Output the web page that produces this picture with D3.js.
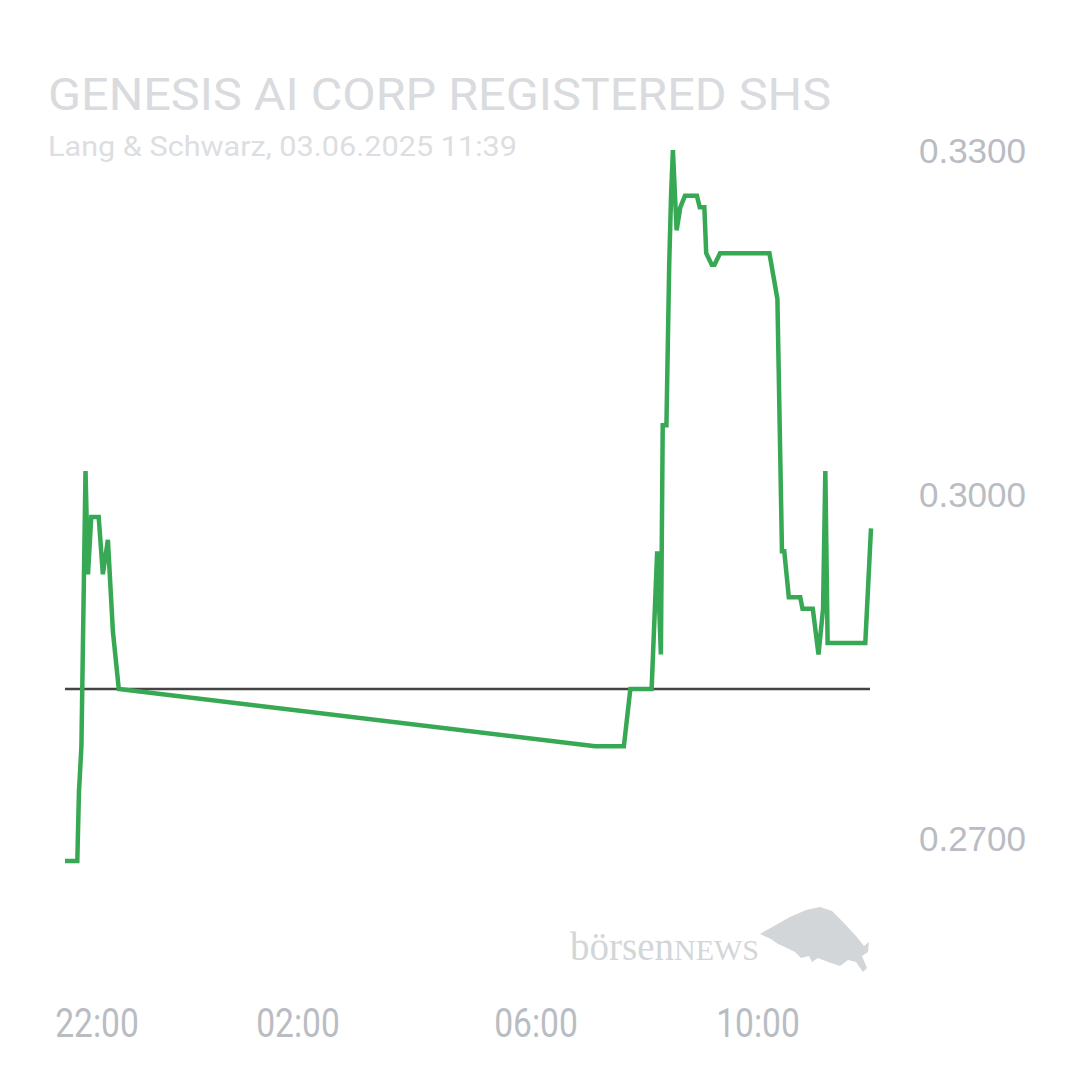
<!DOCTYPE html>
<html>
<head>
<meta charset="utf-8">
<script src="https://cdn.jsdelivr.net/npm/d3@7"></script>
<style>
    body { margin: 0; background: #fff; }
    #chart { width: 1080px; height: 1080px; }
</style>
</head>
<body>
<div id="chart"></div>
<script>

// Title texts
const chartTitle = "GENESIS AI CORP REGISTERED SHS";
const chartSubtitle = "Lang & Schwarz, 03.06.2025 11:39";

// Quote times and prices
const quoteTimes = [
    "2025-06-02 21:21", "2025-06-02 21:36", "2025-06-02 21:38", "2025-06-02 21:41",
    "2025-06-02 21:46", "2025-06-02 21:49", "2025-06-02 21:53", "2025-06-02 22:02",
    "2025-06-02 22:07", "2025-06-02 22:13", "2025-06-02 22:19", "2025-06-02 22:26",
    "2025-06-03 07:04", "2025-06-03 07:35", "2025-06-03 07:42", "2025-06-03 08:05",
    "2025-06-03 08:11", "2025-06-03 08:15", "2025-06-03 08:17", "2025-06-03 08:21",
    "2025-06-03 08:24", "2025-06-03 08:26", "2025-06-03 08:28", "2025-06-03 08:32",
    "2025-06-03 08:36", "2025-06-03 08:41", "2025-06-03 08:54", "2025-06-03 08:57",
    "2025-06-03 09:02", "2025-06-03 09:04", "2025-06-03 09:10", "2025-06-03 09:13",
    "2025-06-03 09:19", "2025-06-03 10:10", "2025-06-03 10:17", "2025-06-03 10:21",
    "2025-06-03 10:23", "2025-06-03 10:27", "2025-06-03 10:37", "2025-06-03 10:39",
    "2025-06-03 10:48", "2025-06-03 10:53", "2025-06-03 10:57", "2025-06-03 10:59",
    "2025-06-03 11:01", "2025-06-03 11:34", "2025-06-03 11:39"
];
const quotePrices = [
    0.2680, 0.2680, 0.2740, 0.2780,
    0.3020, 0.2930, 0.2980, 0.2980,
    0.2930, 0.2960, 0.2880, 0.2830,
    0.2780, 0.2780, 0.2830, 0.2830,
    0.2950, 0.2860, 0.3060, 0.3060,
    0.3200, 0.3260, 0.3300, 0.3230,
    0.3250, 0.3260, 0.3260, 0.3250,
    0.3250, 0.3210, 0.3200, 0.3200,
    0.3210, 0.3210, 0.3170, 0.2950,
    0.2950, 0.2910, 0.2910, 0.2900,
    0.2900, 0.2860, 0.2900, 0.3020,
    0.2870, 0.2870, 0.2970
];

// Previous close (reference line)
const previousClose = 0.2830;

// Axis ticks
const xTickTimes = ["2025-06-02 22:00", "2025-06-03 02:00", "2025-06-03 06:00", "2025-06-03 10:00"];
const xTickLabels = ["22:00", "02:00", "06:00", "10:00"];
const yTickValues = [0.27, 0.30, 0.33];


class PriceChart {
    constructor(parentElement, times, prices){
        this.parentElement = parentElement;
        this.times = times;
        this.prices = prices;
        this.initVis();
    }

    initVis(){
        let vis = this;

        vis.width = 1080;
        vis.height = 1080;

        // plot area
        vis.left = 65;
        vis.right = 871;
        vis.top = 150;
        vis.bottom = 838;

        // the x axis is not linear in time, ticks sit at these spots
        vis.tickSpots = [97, 298, 536, 758];

        vis.svg = d3.select("#" + vis.parentElement).append("svg")
            .attr("width", vis.width)
            .attr("height", vis.height);

        vis.parseTime = d3.timeParse("%Y-%m-%d %H:%M");

        vis.wrangleData();
    }

    wrangleData(){
        let vis = this;

        vis.data = vis.times.map((t, i) => ({date: vis.parseTime(t), price: vis.prices[i]}));
        vis.tickDates = xTickTimes.map(t => vis.parseTime(t));

        vis.updateVis();
    }

    updateVis(){
        let vis = this;

        // piecewise time scale
        vis.x = d3.scaleTime()
            .domain([vis.data[0].date].concat(vis.tickDates, [vis.data[vis.data.length - 1].date]))
            .range([vis.left].concat(vis.tickSpots, [vis.right]));

        vis.y = d3.scaleLinear()
            .domain([0.27, 0.33])
            .range([vis.bottom, vis.top]);

        // Title
        vis.svg.append("text")
            .attr("x", 48)
            .attr("y", 110)
            .attr("font-family", "Roboto, sans-serif")
            .attr("font-size", 45)
            .attr("fill", "#d9dbde")
            .attr("textLength", 783)
            .attr("lengthAdjust", "spacingAndGlyphs")
            .text(chartTitle);

        vis.svg.append("text")
            .attr("x", 48)
            .attr("y", 156)
            .attr("font-family", "Roboto, sans-serif")
            .attr("font-size", 27)
            .attr("fill", "#dcdee1")
            .attr("textLength", 469)
            .attr("lengthAdjust", "spacingAndGlyphs")
            .text(chartSubtitle);

        // y tick labels on the right
        vis.svg.append("g").selectAll(".y-label")
            .data(yTickValues)
            .enter().append("text")
            .attr("class", "y-label")
            .attr("x", 1026)
            .attr("y", d => vis.y(d))
            .attr("dy", "0.36em")
            .attr("text-anchor", "end")
            .attr("font-family", "'Liberation Sans', Arial, sans-serif")
            .attr("font-size", 35)
            .attr("fill", "#b9bdc3")
            .text(d => d3.format(".4f")(d));

        // x tick labels (narrow look, squeeze horizontally)
        vis.svg.append("g").selectAll(".x-label")
            .data(vis.tickDates)
            .enter().append("text")
            .attr("class", "x-label")
            .attr("transform", d => "translate(" + vis.x(d) + ",1037) scale(0.84,1)")
            .attr("text-anchor", "middle")
            .attr("font-family", "Roboto, sans-serif")
            .attr("font-size", 40)
            .attr("fill", "#b9bdc3")
            .text((d, i) => xTickLabels[i]);

        // watermark
        vis.logo = vis.svg.append("g");
        vis.logo.append("text")
            .attr("x", 570)
            .attr("y", 960)
            .attr("font-family", "'Liberation Serif', 'DejaVu Serif', serif")
            .attr("font-size", 39)
            .attr("fill", "#d3d6d9")
            .text("börsen")
            .append("tspan")
            .attr("font-size", 30)
            .text("NEWS");
        vis.logo.append("path")
            .attr("d", "M760,934 L774,926 L790,917 L806,910 L820,907 L832,911 L843,922 L856,936 L864,946 L869,942 L868,952 L862,956 L867,968 L863,972 L856,962 L848,960 L840,966 L828,962 L818,958 L812,962 L809,956 L801,958 L795,952 L785,947 L778,944 L771,939 Z")
            .attr("fill", "#d3d6d9");

        // previous close line
        vis.svg.append("line")
            .attr("x1", vis.left)
            .attr("x2", vis.right - 1)
            .attr("y1", vis.y(previousClose))
            .attr("y2", vis.y(previousClose))
            .attr("stroke", "#444")
            .attr("stroke-width", 2.5);

        // price line
        vis.line = d3.line()
            .x(d => vis.x(d.date))
            .y(d => vis.y(d.price));

        vis.svg.append("path")
            .datum(vis.data)
            .attr("fill", "none")
            .attr("stroke", "#37a853")
            .attr("stroke-width", 4.5)
            .attr("stroke-linejoin", "miter")
            .attr("d", vis.line);
    }
}

new PriceChart("chart", quoteTimes, quotePrices);
</script>
</body>
</html>
